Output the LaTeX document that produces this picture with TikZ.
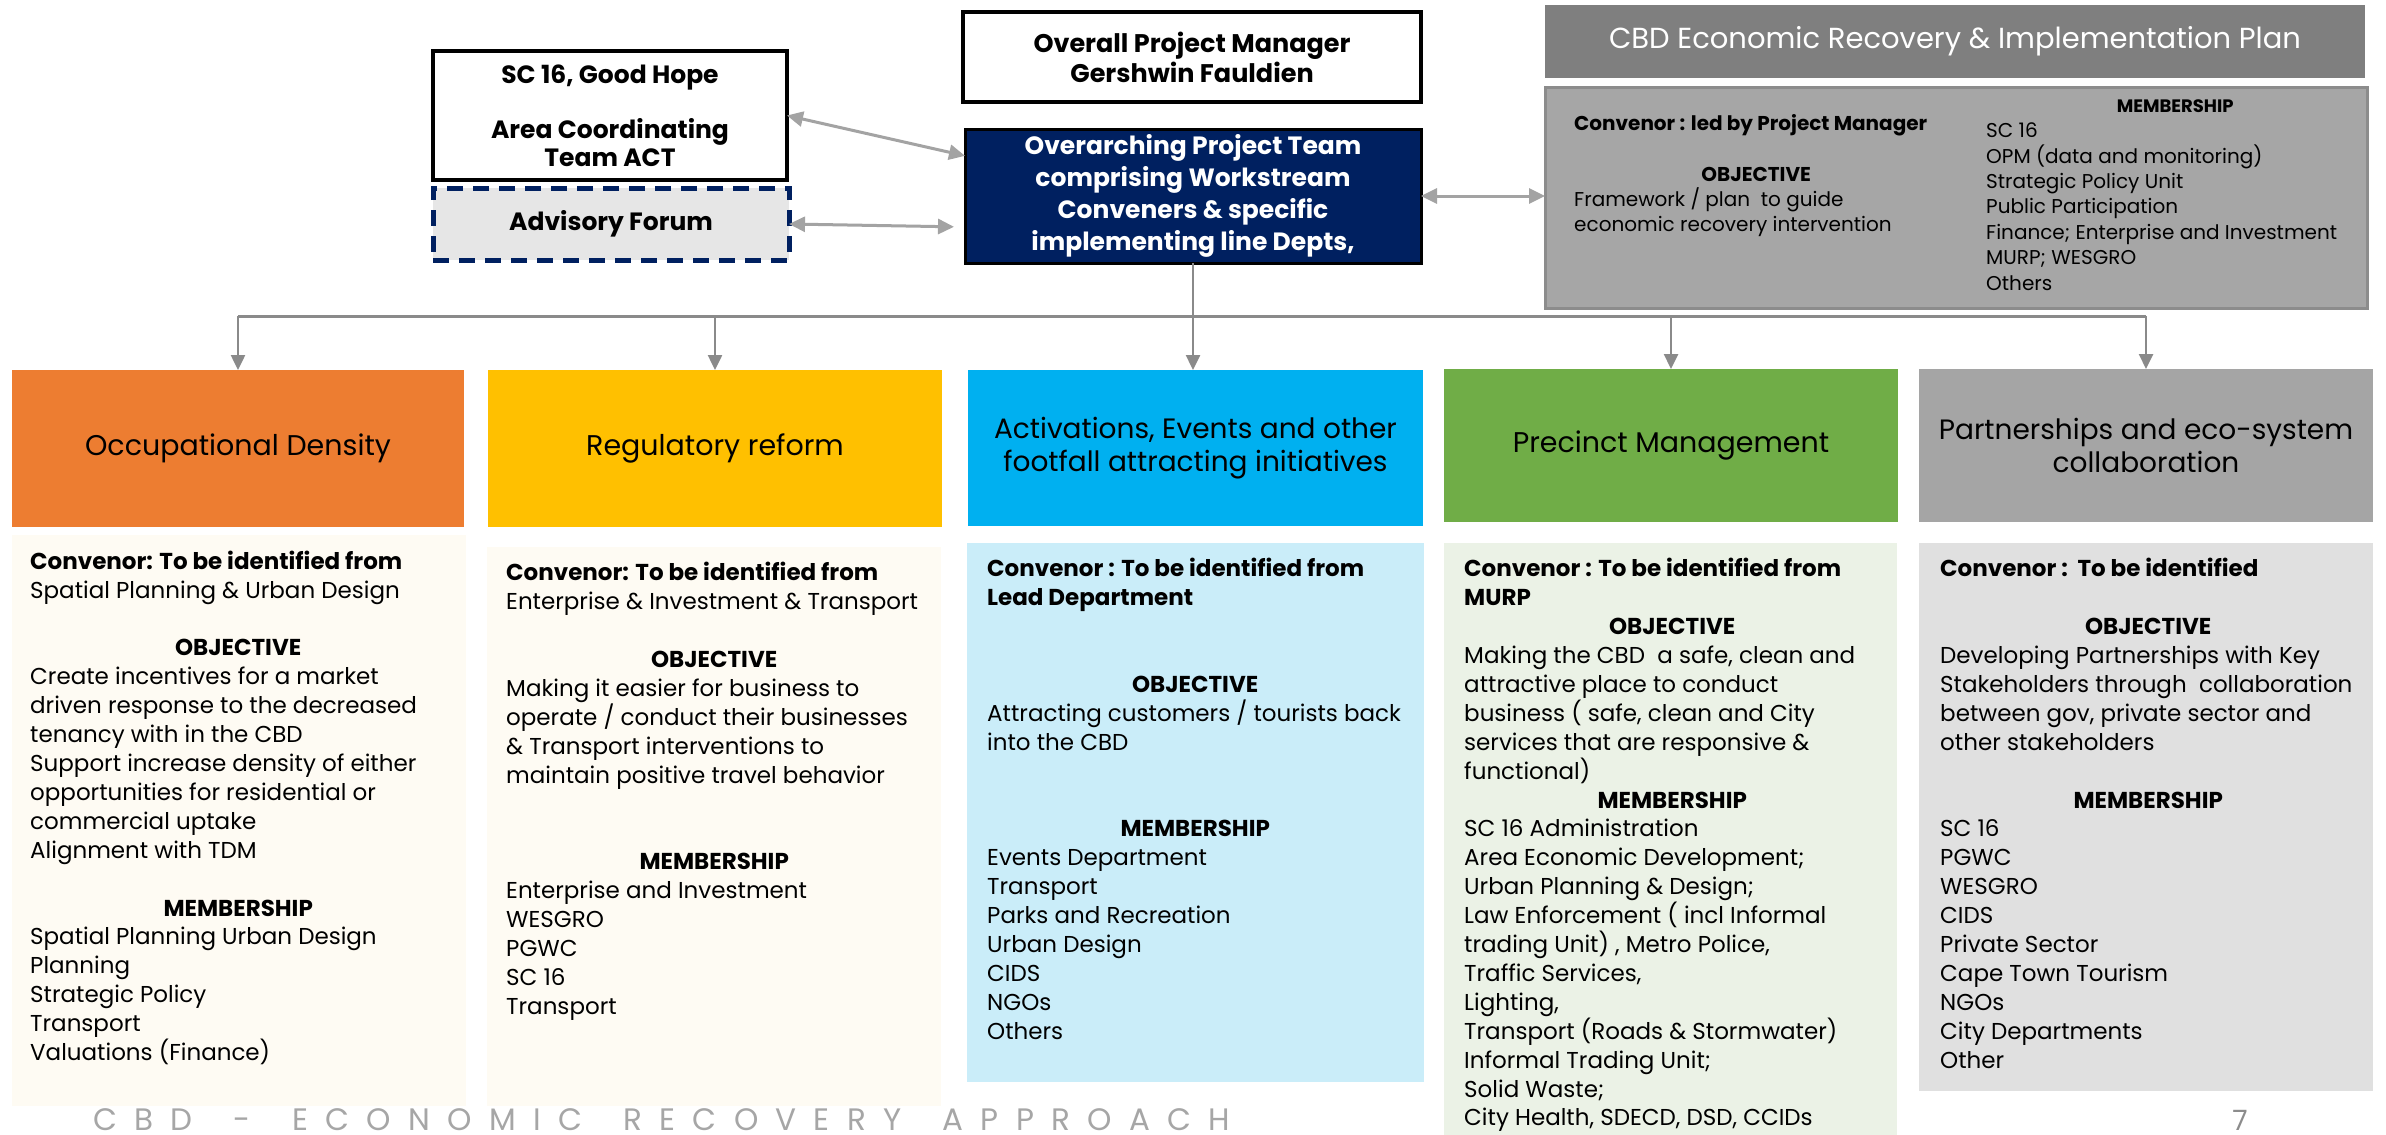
\documentclass[tikz,border=0pt]{standalone}
\usepackage{fontspec}
\setmainfont{Poppins}
\usetikzlibrary{arrows.meta,calc}

\definecolor{cOrange}{HTML}{ED7D31}
\definecolor{cYellow}{HTML}{FFC000}
\definecolor{cBlue}{HTML}{00B0F0}
\definecolor{cGreen}{HTML}{70AD47}
\definecolor{cGrey}{HTML}{A5A5A5}
\definecolor{cCream}{HTML}{FEFBF3}
\definecolor{cLBlue}{HTML}{CAEDF9}
\definecolor{cLGreen}{HTML}{EBF2E6}
\definecolor{cLGrey}{HTML}{E0E0E0}
\definecolor{cNavy}{HTML}{002060}
\definecolor{cDark}{HTML}{7F7F7F}
\definecolor{cPlan}{HTML}{A6A6A6}
\definecolor{cPlanEdge}{HTML}{8C8C8C}
\definecolor{cLine}{HTML}{8A8A8A}
\definecolor{cDbl}{HTML}{A3A3A3}
\definecolor{cAdv}{HTML}{E6E6E6}
\definecolor{cFoot}{HTML}{A6A6A6}
\definecolor{cNum}{HTML}{8C8C8C}

\newlength\colskip
\setlength\colskip{28.9pt}
\newlength\planskip
\setlength\planskip{25.4pt}
% fonts for the text columns
\newcommand\colfont{\fontsize{23}{28.9}\selectfont\lineskiplimit=-50pt\relax}
\newcommand\planfont{\fontsize{20}{25.4}\selectfont\lineskiplimit=-50pt\relax}
% centred bold heading inside a left-aligned column
\newcommand\hd[2][416pt]{\makebox[#1][c]{\textbf{#2}}}
\newcommand\fst{\rule{0pt}{26pt}}
\newcommand\wg{\hspace{24pt}\hfill}

\begin{document}
\begin{tikzpicture}[x=1pt,y=-1pt,
  box/.style={anchor=north west, inner sep=0pt, outer sep=0pt, align=center},
  hdr/.style={box, font=\fontsize{28.5}{32.6}\selectfont},
  lower/.style={box},
  coltext/.style={anchor=north west, inner sep=0pt, align=left, font=\colfont},
  plantext/.style={anchor=north west, inner sep=0pt, align=left, font=\planfont},
  topbold/.style={box, font=\fontsize{25}{28}\bfseries\selectfont},
  conn/.style={draw=cLine, line width=2.5pt, -{Triangle[length=15pt,width=14pt]}},
  bus/.style={draw=cLine, line width=3pt},
  dconn/.style={draw=cDbl, line width=3pt,
    {Triangle[length=16pt,width=15pt]}-{Triangle[length=16pt,width=15pt]}}
]
\useasboundingbox (0,0) rectangle (2386,1135);
\fill[white] (0,0) rectangle (2386,1135);

% ---------- top row ----------
\node[topbold, draw=black, line width=4pt, minimum width=458pt, minimum height=90pt,
  font=\fontsize{25.5}{30}\bfseries\selectfont] (pm) at (963,12)
  {Overall Project Manager\\Gershwin Fauldien};
\node[topbold, draw=black, line width=4pt, minimum width=354pt, minimum height=129pt,
  font=\fontsize{25}{27.7}\bfseries\selectfont] (sc16) at (433,51)
  {SC 16, Good Hope\\[27.7pt]Area Coordinating\\Team ACT};
\node[topbold, fill=cAdv, draw=cNavy, line width=5pt, dash pattern=on 16pt off 10pt,
  minimum width=356pt, minimum height=72pt] (adv) at (433,188) {Advisory Forum};
\node[topbold, fill=cNavy, draw=black, line width=3pt, text=white,
  minimum width=456pt, minimum height=134pt,
  font=\fontsize{25}{32}\bfseries\selectfont] (navy) at (965,129)
  {Overarching Project Team\\comprising Workstream\\Conveners \& specific\\implementing line Depts,};
\node[box, fill=cDark, text=white, minimum width=820pt, minimum height=73pt,
  font=\fontsize{29}{34}\selectfont] (title) at (1545,5)
  {CBD Economic Recovery \& Implementation Plan};
\node[box, fill=cPlan, draw=cPlanEdge, line width=3pt, minimum width=822pt,
  minimum height=221pt] (plan) at (1545,87) {};
\node[plantext] (planL) at (1574,104)
  {\fst\textbf{Convenor : led by Project Manager}\\[\planskip]
   \hd[364pt]{OBJECTIVE}\\
   Framework / plan\ \ to guide\\
   economic recovery intervention};
\node[plantext] (planR) at (1986,86)
  {\fst\hd[378pt]{\fontsize{18}{25.4}\selectfont MEMBERSHIP}\\
   SC 16\\
   OPM (data and monitoring)\\
   Strategic Policy Unit\\
   Public Participation\\
   Finance; Enterprise and Investment\\
   MURP; WESGRO\\
   Others};

% ---------- workstream headers ----------
\node[hdr, fill=cOrange, minimum width=452pt, minimum height=157pt] (h1) at (12,370)
  {Occupational Density};
\node[hdr, fill=cYellow, minimum width=454pt, minimum height=157pt] (h2) at (488,370)
  {Regulatory reform};
\node[hdr, fill=cBlue, minimum width=455pt, minimum height=156pt,
  font=\fontsize{28}{32.6}\selectfont] (h3) at (968,370)
  {Activations, Events and other\\footfall attracting initiatives};
\node[hdr, fill=cGreen, minimum width=454pt, minimum height=153pt] (h4) at (1444,369)
  {Precinct Management};
\node[hdr, fill=cGrey, minimum width=454pt, minimum height=153pt,
  font=\fontsize{28}{32.6}\selectfont] (h5) at (1919,369)
  {Partnerships and eco-system\\collaboration};

% ---------- workstream detail panels ----------
\node[lower, fill=cCream, minimum width=454pt, minimum height=571pt] (l1) at (12,535) {};
\node[lower, fill=cCream, minimum width=454pt, minimum height=559pt] (l2) at (487,547) {};
\node[lower, fill=cLBlue, minimum width=457pt, minimum height=539pt] (l3) at (967,543) {};
\node[lower, fill=cLGreen, minimum width=453pt, minimum height=592pt] (l4) at (1444,543) {};
\node[lower, fill=cLGrey, minimum width=454pt, minimum height=548pt] (l5) at (1919,543) {};

\node[coltext] (t1) at (30,543)
  {\fst\textbf{Convenor: To be identified from}\\
   Spatial Planning \& Urban Design\\[\colskip]
   \hd{OBJECTIVE}\\
   Create incentives for a market\\
   driven response to the decreased\\
   tenancy with in the CBD\\
   Support increase density of either\\
   opportunities for residential or\\
   commercial uptake\\
   Alignment with TDM\\[\colskip]
   \hd{MEMBERSHIP}\\
   Spatial Planning Urban Design\\
   Planning\\
   Strategic Policy\\
   Transport\\
   Valuations (Finance)};

\node[coltext] (t2) at (506,554.6)
  {\fst\textbf{Convenor: To be identified from}\\
   Enterprise \& Investment \& Transport\\[\colskip]
   \hd{OBJECTIVE}\\
   Making it easier for business to\\
   operate / conduct their businesses\\
   \& Transport interventions to\\
   maintain positive travel behavior\\[2\colskip]
   \hd{MEMBERSHIP}\\
   Enterprise and Investment\\
   WESGRO\\
   PGWC\\
   SC 16\\
   Transport};

\node[coltext] (t3) at (987,550.6)
  {\fst\textbf{Convenor : To be identified from}\\
   \textbf{Lead Department}\\[2\colskip]
   \hd{OBJECTIVE}\\
   Attracting customers / tourists back\\
   into the CBD\\[2\colskip]
   \hd{MEMBERSHIP}\\
   Events Department\\
   Transport\\
   Parks and Recreation\\
   Urban Design\\
   CIDS\\
   NGOs\\
   Others};

\node[coltext] (t4) at (1464,550.6)
  {\fst\textbf{Convenor : To be identified from}\\
   \textbf{MURP}\\
   \hd{OBJECTIVE}\\
   Making the CBD\ \ a safe, clean and\\
   attractive place to conduct\\
   business ( safe, clean and City\\
   services that are responsive \&\\
   functional)\\
   \hd{MEMBERSHIP}\\
   SC 16 Administration\\
   Area Economic Development;\\
   Urban Planning \& Design;\\
   Law Enforcement ( incl Informal\\
   trading Unit) , Metro Police,\\
   Traffic Services,\\
   Lighting,\\
   Transport (Roads \& Stormwater)\\
   Informal Trading Unit;\\
   Solid Waste;\\
   City Health, SDECD, DSD, CCIDs};

\node[coltext] (t5) at (1940,550.6)
  {\fst\textbf{Convenor :\ \ To be identified}\\[\colskip]
   \hd{OBJECTIVE}\\
   Developing Partnerships with Key\\
   Stakeholders through\ \ collaboration\\
   between gov, private sector and\\
   other stakeholders\\[\colskip]
   \hd{MEMBERSHIP}\\
   SC 16\\
   PGWC\\
   WESGRO\\
   CIDS\\
   Private Sector\\
   Cape Town Tourism\\
   NGOs\\
   City Departments\\
   Other};

% ---------- connectors ----------
\coordinate (busy) at (0,316);
\draw[bus] (busy -| h1.north) -- (busy -| h5.north);
\draw[conn] (navy.south) -- (navy.south |- h3.north);
\foreach \h in {h1,h2,h4,h5}
  \draw[conn] (busy -| \h.north) -- (\h.north);
\draw[dconn] (sc16.east) -- ($(navy.north west)!0.2!(navy.south west)$);
\draw[dconn] (adv.east) -- ($(navy.north west)!0.73!(navy.south west)+(-11,0)$);
\draw[dconn] (navy.east) -- (navy.east -| plan.west);

% ---------- footer ----------
\node[anchor=base west, inner sep=0pt, text=cFoot, font=\fontsize{31}{33}\selectfont]
  (foot) at (93,1130)
  {\makebox[1137pt][l]{C\hfill B\hfill D\wg -\wg E\hfill C\hfill O\hfill N\hfill O\hfill
   M\hfill I\hfill C\wg R\hfill E\hfill C\hfill O\hfill V\hfill E\hfill R\hfill Y\wg
   A\hfill P\hfill P\hfill R\hfill O\hfill A\hfill C\hfill H}};
\node[anchor=base, inner sep=0pt, text=cNum, font=\fontsize{28}{30}\selectfont]
  (pagenum) at (2240,1130) {7};
\end{tikzpicture}
\end{document}
